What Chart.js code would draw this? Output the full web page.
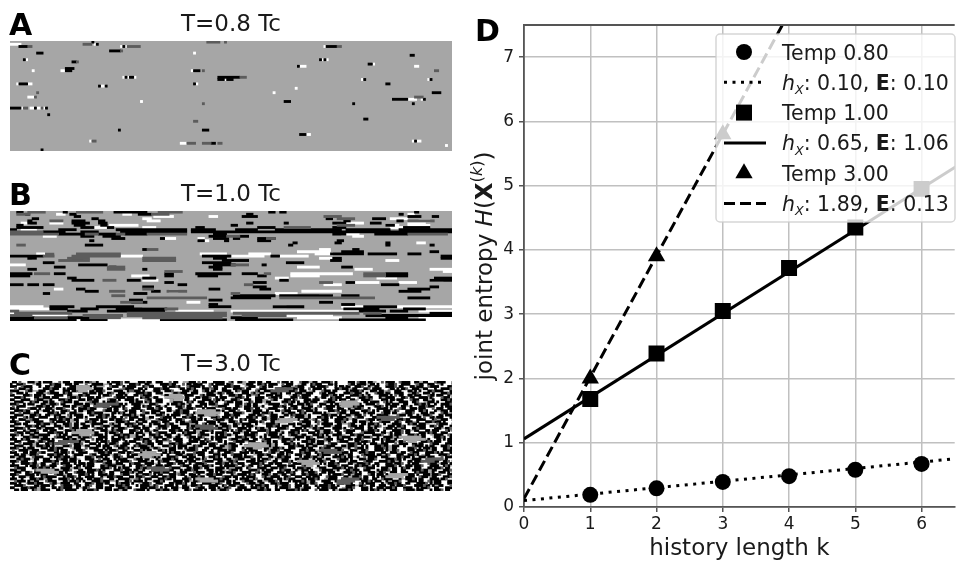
<!DOCTYPE html>
<html>
<head>
<meta charset="utf-8">
<title>Spin entropy</title>
<script src="https://cdn.jsdelivr.net/npm/chart.js@4"></script>
<style>
  html, body { margin: 0; padding: 0; background: #fff; overflow: hidden; }
  #page { position: relative; width: 957px; height: 563px; overflow: hidden; }
  canvas { position: absolute; }
</style>
</head>
<body>
<div id="page">
  <canvas id="panelA" width="452" height="170" style="left:0;top:0"></canvas>
  <canvas id="panelB" width="452" height="170" style="left:0;top:170px"></canvas>
  <canvas id="panelC" width="452" height="170" style="left:0;top:340px"></canvas>
  <canvas id="panelD" width="496" height="563" style="left:470px;top:0"></canvas>
</div>
<script>
// raster panels: 50 rows of 200 time steps, runs are [row, from, to]
const panelABlack = [[0,37,38],[1,39,40],[2,4,8],[2,51,52],[2,143,148],[4,45,50],[5,12,15],[6,181,183],[8,6,7],[8,140,141],[8,142,143],[9,28,30],[10,162,164],[11,130,131],[12,25,29],[13,25,28],[13,83,86],[16,52,53],[16,54,56],[16,94,104],[17,94,97],[17,98,101],[17,160,161],[17,190,191],[19,4,8],[19,83,84],[19,170,172],[20,40,41],[20,43,44],[23,191,195],[26,173,180],[26,187,188],[27,124,127],[28,155,156],[28,182,183],[30,0,5],[30,11,12],[30,16,17],[33,17,18],[35,160,162],[40,49,50],[40,87,90],[42,131,134],[45,183,184],[46,91,93],[49,14,15]];
const panelADark = [[0,89,95],[0,97,98],[1,33,37],[2,8,10],[2,53,59],[2,148,150],[4,50,51],[9,30,31],[13,87,88],[13,192,194],[16,104,107],[23,12,13],[25,11,12],[25,183,187],[28,87,88],[30,6,8],[30,14,15],[36,83,85],[45,37,39],[46,80,84],[46,87,91],[46,94,96]];
const panelAWhite = [[1,0,5],[1,38,39],[2,50,51],[2,52,53],[2,142,143],[2,148,149],[5,83,84],[8,7,8],[8,141,142],[8,143,144],[10,164,165],[11,131,134],[11,183,185],[13,10,11],[13,23,25],[13,82,83],[16,51,52],[16,53,54],[16,56,57],[17,97,98],[17,159,160],[17,189,190],[19,3,4],[19,8,10],[19,84,85],[20,41,43],[21,129,130],[23,119,120],[25,8,11],[26,180,184],[26,186,187],[27,59,60],[30,5,6],[30,9,11],[30,12,14],[30,15,16],[42,134,136],[45,36,37],[45,182,183],[45,184,186],[46,77,80],[47,197,198]];

const panelBBlack = [[0,3,6],[0,24,26],[0,47,62],[0,117,120],[0,122,125],[0,183,185],[1,7,9],[1,27,30],[1,58,64],[1,107,110],[1,176,178],[2,29,32],[2,105,112],[2,180,186],[2,191,194],[3,143,146],[3,164,170],[3,10,13],[3,37,40],[4,28,34],[4,40,43],[4,151,154],[4,175,178],[4,8,10],[5,8,12],[5,28,36],[5,40,44],[5,107,110],[5,146,152],[5,163,168],[5,124,126],[6,29,34],[6,41,44],[6,100,103],[6,170,174],[6,3,6],[7,3,15],[7,32,38],[7,44,47],[7,84,88],[7,112,120],[7,146,152],[7,178,190],[8,0,3],[8,22,30],[8,48,80],[8,82,93],[8,102,112],[8,120,150],[8,152,172],[8,176,200],[9,15,25],[9,32,40],[9,50,80],[9,82,172],[9,165,200],[10,22,34],[10,40,48],[10,52,62],[10,92,98],[10,146,152],[10,165,180],[11,32,38],[11,42,50],[11,90,98],[11,104,108],[12,46,52],[12,92,99],[12,101,104],[12,112,120],[12,68,70],[13,85,88],[13,97,99],[13,112,118],[13,148,151],[13,36,38],[14,147,150],[14,170,172],[14,128,130],[15,34,42],[15,126,128],[15,170,172],[15,190,192],[17,60,62],[17,155,158],[18,150,160],[18,190,194],[19,145,160],[19,162,175],[19,180,186],[20,0,15],[20,87,100],[20,118,122],[20,195,200],[21,8,12],[21,28,33],[21,92,98],[21,195,200],[21,146,150],[22,96,108],[22,145,150],[23,125,133],[23,87,100],[23,15,20],[24,31,44],[24,92,102],[24,114,116],[25,20,25],[25,45,48],[25,90,96],[25,150,155],[26,92,96],[26,8,12],[26,60,62],[28,0,10],[28,20,25],[28,84,100],[28,105,112],[28,170,180],[28,70,74],[29,0,9],[29,85,94],[29,70,74],[29,170,180],[29,112,116],[30,60,66],[30,192,200],[30,26,30],[31,53,59],[31,28,38],[31,190,200],[31,122,126],[32,110,116],[32,70,74],[32,152,156],[33,0,6],[33,8,13],[33,15,20],[33,168,176],[33,76,80],[34,110,116],[34,60,65],[34,190,194],[35,90,95],[35,113,118],[35,180,190],[35,30,34],[36,34,40],[36,176,186],[36,64,68],[37,56,62],[37,15,18],[38,101,120],[38,122,146],[38,150,158],[39,100,118],[39,180,190],[40,54,60],[40,90,96],[41,55,62],[41,140,146],[42,150,156],[42,90,94],[43,18,29],[43,39,56],[43,90,100],[43,119,133],[43,160,175],[44,18,26],[44,32,40],[44,48,71],[44,151,167],[44,178,188],[45,26,35],[45,44,70],[45,158,170],[45,172,180],[46,190,200],[47,161,200],[48,0,11],[48,26,36],[48,100,112],[48,170,180],[49,0,30],[49,32,44],[49,68,98],[49,102,128],[49,149,188]];
const panelBDark = [[0,8,16],[0,30,42],[0,67,78],[1,3,9],[1,64,72],[2,142,150],[3,148,156],[4,18,24],[4,180,192],[6,148,156],[7,124,136],[10,0,22],[10,34,40],[10,48,52],[10,62,80],[10,180,198],[9,0,15],[11,98,104],[12,116,120],[15,3,7],[17,62,67],[19,16,20],[19,30,50],[20,15,20],[20,28,50],[21,26,36],[21,60,75],[22,22,36],[22,60,75],[24,100,108],[25,44,52],[26,44,52],[27,70,78],[28,11,18],[28,160,170],[28,115,118],[29,160,170],[31,42,48],[32,140,146],[33,106,110],[35,60,65],[36,45,52],[36,71,80],[37,100,104],[38,46,52],[39,62,89],[39,122,146],[39,146,165],[41,50,60],[44,70,76],[45,0,4],[46,2,28],[46,53,98],[46,101,158],[46,160,168],[47,0,10],[47,33,51],[47,53,98],[47,105,125],[48,11,26],[48,36,50],[48,60,96]];
const panelBWhite = [[1,21,25],[1,51,55],[2,65,74],[2,90,94],[1,180,183],[3,60,64],[3,172,180],[4,62,68],[4,185,190],[5,5,9],[5,18,24],[5,150,160],[5,180,188],[6,45,58],[6,170,176],[6,180,190],[7,36,44],[7,60,66],[7,172,178],[8,5,12],[9,5,12],[10,150,158],[11,15,21],[11,155,160],[12,70,75],[12,85,88],[13,86,90],[14,184,188],[17,140,145],[18,130,145],[19,12,20],[19,86,98],[19,108,118],[19,138,146],[20,50,60],[20,100,115],[20,122,135],[21,10,12],[21,140,146],[22,170,176],[24,0,7],[25,130,140],[26,156,164],[26,190,200],[27,196,200],[28,127,155],[29,55,63],[29,127,140],[30,166,175],[30,120,126],[31,60,67],[31,190,196],[32,155,167],[32,176,184],[33,142,150],[35,20,24],[36,132,150],[36,72,76],[37,120,130],[38,140,146],[41,80,86],[43,0,15],[43,119,125],[43,150,200],[44,0,18],[44,60,70],[45,75,92],[45,100,158],[45,185,200],[46,0,2],[47,10,26],[47,125,146],[47,90,96],[48,130,150],[48,185,200],[49,30,32],[49,44,68],[49,188,200]];

// digit per cell: 0 black, 1 dark, 2 mid grey, 3 white
const panelCRows = [
"300313330002203000033313000330000300122033330300001300333300020033000333130033222000313003330000033103300223000300330033313000303331000220033000013033333000310003002233130000331000033002200333100003330010330033",
"033000133322003333010003300030033313300000222033001333000103300223330000100333130020000333103000030013333220003300103000033130003322003301000333002033333100300002200303331000133000033210033000322033330100003300",
"000331000033303300220003333000100330030222233100033030000333012003333003000103331000002033130033300010003322000331003003333000022100033300300001333030020033000133022003330000130033300200033100003333001300220330",
"331300022033333000100033020000333003130000330033322100003300303330001000333320030010333000210033003330000130033220003333000310300020033130000303333001000220033300130000333200303001330002200333033000013330020003",
"000033310022200033003333000300100333002000133330000330110003033320003300013333000220033100300333000033012000333103300002003333000130003220333100030033330200001033300030022133000333002030333001000033300220010333",
"133000303333000221000033010033333002000300330013300022333000010033000333320010003300033330002200130003333000310220033300010330033000220003331003000333300012000330333100020033000033220013300030333000102333000330",
"003333000130002033330000330022200100333303000133000203330031000033332200010303300003331020000330333000100330022103330003000333220013000033333000210030033300001022033330000303130033002000333100300033022003300013",
"330001033330022000300033331000103330003002233331000030003330100220033330000310300333002000133030003322000130333000033100020333300031000333022003301000330033320001003330220000333001300330000202333100030033013300",
"003330000331000222033300010033300030020033331000303300002033310033000333220001300330333000031002033300013300033000222310033300030133300020003333001030003300223000013333000300200033310003300220333000100330033000",
"330000333010033002003331000030033322100033030000133333002000301033000333220000330103300033002033310003000333013000220033333000100303300200033310000333022000133300300003310203330000330013322000303330001000330033",
"000133030003330022000130033330000300220133300033100303300002233000133330300010022033330003000133200333000310030033322000003313003300020013330003303000222103300330000313330020003300333001002033033000013300022033",
"313000033322000100303333000300221000330333001300002033330003010033002203333000130033000303322100003333001300030022033330001003300033022003310330000302333000100033332000130300033002203330001000333030002200331000",
"002033331000303300022000133303300001000333220030033013300003330002100330033300220001333030000333100020033300013003322000033303010033000022033310003300033022000133033300000303321003300020003331300033002200133300",
"330000100333022000303330001330300220003333100030033202000330133300003330022001000333303000133002033000313330020000330333002100033300130002033333000103002200333000130303300022013330000330010333022000303333000130",
"003313000220033330001030033000222330010000333300201033000333100300220033330001000330300223100033300330000133320003000103333022000330103330000302233310003300003302000333100030033220001333000300333100220030033001",
"330000333000103300220003331030000333002200100303333000010220033333000130300003320103300033002223300010003333000300133200033300301000022033333000100030330022000313303300000233310003003302200013330030003330100220",
"000333102003300003330100022033000303333000102200330313000033022003331000030333001000220333300013000302033330001033002200030033313000022033300100303300002223100033330030010003302233300000313300200033300100330003",
"303300022100033333000300100220033313000030333002000133003300022233100003033000133300200303331000022003330103000333002200010333000303300221033000333000010220033331000300033202300010033300003330122000330030333000",
"000133300220000333103000030222033300100330003332000010333022003300013000333030022100033330000302233000130333000020133300300002033331000033012200333000103330030002203331000033001330002203330001000303332200003300",
"330003003333001000220333000130030033200000333102203300001300333020003301003330000222033103000330003330012000033033220000103333000300220033313000003300222100333003000103303320000333010030002233310000330300203330",
"002233300010030033330002200130033000303331000220003330100033022033300001300033330200103000333022000130033030002233330001003000330332000013033300022000333100030033022001333000300103332200003300130033300002203310",
"330000130333002200003300333100020003331000303302200013330003000333102003300003330102000333003000220133300003033010022033300001333000303220010033330000203313000033002033310003022003330010003333000220013000330330",
"000333022000133003000333200010033300303330002201000333000130300220033333000100300330222000103333000303100220033300001033002233300003010333002200033003310000333022000103303330000130022003330030003331020000333000",
"331000300220033330001000303322000133000033302000130333003000222033100003300333010000220033303000013330002200300033331000022033000103333000302200013300330003332100000333002203000130033330002010033000333220001303",
"000130333002200000333103003300022033310000303330001000222033033000103300033202200033310000333030010022033300000133302000030333100022003330001030330000223300100033330000133202000333000103003322000033100333002000",
"303333000100022003331000030033202000133300003303300010222000333130000330022003331000300133302000003333000102200330303300001033332000030013300022033301000033300200013303300002200333100030003332000103300333000200",
"000330100333220000303333000100220033313000303300002033330001000222033001330000333020003301303000333100022000330033100033322000010303330000223310003300033002000133330003010022033300003310002033300303000133022000",
"330003330002200130003303330000102200333030001300033202000333010033000222133000333000030020133300303331000022000333010030033002203333000100300022033310000333002000130333030000220013300333000102000333003000133020",
"003313000022033300100030033220001333000303302000133000333002210003300333000100220033330003000133202000330333100003300022033300010303330002200033100033332000100303300022000333130000330020033310003330000220103300",
"330000333022000100303333000130002200333003000331020003330100002203333000130300003320100333000330022100033300303300010022033333000100030220033310000333002000133030333000100220003303331000030200333000130033002000",
"000133020003330003001000333220003313000033020033300010303330000220013333000300302000133300330000222100333030000133300220001033000333002003330100033000222033100030333000010220033333000130300020033300103300003220",
"313300002200033330001030003322000133330000302000133003330001020033300103000333220000133003303300002000333103000033302200013300033330001000220333030000133200033001333000030220013333000300010220033300003310030222",
"000333003000210033330020001303300003332200010033300030013330220000333003010002033331000033002203300013330000302000333100220030003330100033022000133330000303320001000333003300022003310003330000102033303000133000",
"330030022000133330001000303320000333100330000220013330300003330200010330333000220001300033330002003310000303332200010033300030133000220033301000033030022003333100000300220133300033000103220033330000130300002033",
"002200033310000333030001000220333300013000303320001330003330000210203330000133003000333022000103303330000200013300333002200100033330300010022033330000103002203313000033000233300100030330002000333130000330220003",
"333001000220033000333010003000223300003313000330200003331000300333022000010033330003002013330000330022100033300303000133022000333001000330300220033310000303330002000133330000100303320000333001000220333003000130",
"000130003320333000010033002000303333001000220033030000133300002203301000333000302000333100003300222001033330000300013320033000103333022000030013300330002200033310003330000100220333003000133020003300130033000220",
"303330000100220033300130000330300020003333100022000333010003300002203330001300033032000013333000100302200033300001033002000333130000220033300303000103333002200001033003330002000133030003333100022000300133000330",
"000033303000130022000333100033003020003330010000222033033000130033000200033331000330022000103330300000133022003301300033300002000333100003303322000013000333001000220303330000130330002000133300003301022000330300",
"331000033300200100303330000220013300033330000130302000333001000220033033100003330020001300333000030222000330133300003300020013330300010033220003330000103002033310000333000220033010033000333002000130033300300002",
"000220033331000030030022000133300330000102033330001300030022033300103300003330200010033330003000223100030333000013020003330100033022000303331000002203330010003300033302000130033003330000100220033300013003020003",
"330003300130000222033000303331000020003300133003330000102200333030001000330220003331000033003030020001333000033102200033300030010333022000133003000333200001030333000220013300033000333010000220330003030133000200",
"000133300003020003331000220033300010303300002003331000333022000130300333000210033000303320001000333302200003010333000130022003300333001000020333030000133022000333100300030220033310000303300020001333000033022001",
"303300022003330100000333020001303300003330220001000333003000133200033001000333302200010033000333100020033030000333102200003300133000330020003331000033300220001300330303000200013330000331000220033300010303320000",
"000330333000100220033300001303000330020001333003300000222103300033300010020333000130030332200001000333030000220133300003300201000333003000103322000033013330000200330033100003330220001030033300002001333000300330",
"331000030220033310000333002000103033300001000222033300130000303320001033330000300220013333000100030020333100003300222000130333030000102200333000033010002003333000103000330220001333000030033102000333000130030020",
"000303320001000333100220000330033300013000200333010000303322000133000333002000103300333000022001330030003331000220033300010000333030002200133300003300020003331030000333022000100330033300001302000333003000130330",
"330000133330020000303331000022003300133000333002000100333030000220133300003033002200010333000033013000220033303000100333022000133000300333020000100303330000220013300330003300200013333000010030220033310000330300",
"003330001000220033300301000033022001333000300033200010033330002000130303300022000333100033000302200133300003300010020333030000133002200033303000100033220001333000303300020001033300003302000133003330000220010300",
"330030003301220000333001300000333020001033300030022003331000030333001000220033300130000303300220001333000300033200010033003330000102000333130000330220000103333000300102203300033310000200033303000130033022000330"
];
// grey clusters that sit on top of panel C, [row, from, to]
const panelCGrey = [[2,30,36],[3,30,37],[4,31,35],[6,72,78],[7,70,79],[8,74,78],[9,150,157],[10,149,158],[11,150,155],[13,85,93],[14,84,95],[15,88,93],[17,122,130],[18,120,128],[22,30,37],[23,28,38],[24,32,36],[25,176,186],[26,178,188],[27,180,184],[28,108,116],[29,106,117],[30,110,114],[32,60,66],[33,58,68],[34,60,64],[36,130,138],[37,132,140],[38,134,137],[40,12,20],[41,14,22],[42,172,180],[43,170,178],[44,84,92],[45,86,94]];
const panelCDarkPatches = [[3,120,128],[4,118,126],[10,40,48],[11,38,44],[16,166,176],[17,168,174],[20,84,92],[21,86,94],[27,22,30],[28,20,26],[31,140,148],[32,142,150],[35,188,196],[36,186,192],[39,62,70],[40,64,72],[44,150,158],[45,148,156],[46,148,154]];

const rowLabels = [];
for (let i = 0; i < 50; i++) rowLabels.push(i);

// entropy curves, panel D
const historyK = [1, 2, 3, 4, 5, 6];
const temp080Values = [0.19, 0.29, 0.39, 0.48, 0.58, 0.67];
const temp100Values = [1.68, 2.39, 3.05, 3.72, 4.35, 4.95];
const temp300K = [1, 2, 3];
const temp300Values = [2.0, 3.9, 5.8];
const fitK = [0, 7];
const fit080Values = [0.10, 0.80];
const fit100Values = [1.06, 5.61];
const fit300Values = [0.13, 13.36];
const xTicks = [0, 1, 2, 3, 4, 5, 6];
const yTicks = [0, 1, 2, 3, 4, 5, 6, 7];

const FONT = '"DejaVu Sans"';
const TEXT = '#1a1a1a';
Chart.defaults.font.family = FONT;
Chart.defaults.color = TEXT;
Chart.defaults.animation = false;

function runsFromRows(rows, level) {
  const runs = [];
  rows.forEach((row, r) => {
    let start = -1;
    for (let c = 0; c <= row.length; c++) {
      if (row[c] === level) {
        if (start < 0) start = c;
      } else if (start >= 0) {
        runs.push([r, start, c]);
        start = -1;
      }
    }
  });
  return runs;
}

function runsToBars(runs) {
  return runs.map(r => ({ y: r[0], x: [r[1], r[2]] }));
}

// grey field and the bold panel letter
const panelPlugin = {
  id: 'panelPlugin',
  beforeDatasetsDraw(chart) {
    const a = chart.chartArea;
    chart.ctx.fillStyle = '#a6a6a6';
    chart.ctx.fillRect(a.left, a.top, a.right - a.left, a.bottom - a.top);
  },
  afterDraw(chart, args, opts) {
    const ctx = chart.ctx;
    ctx.save();
    ctx.font = 'bold 30px ' + FONT;
    ctx.fillStyle = '#000';
    ctx.fillText(opts.letter, 9, 35);
    ctx.restore();
  }
};

function makePanel(id, titleText, letter, black, dark, white, grey) {
  const datasets = [
    { data: runsToBars(dark), backgroundColor: '#5c5c5c' },
    { data: runsToBars(black), backgroundColor: '#000000' },
    { data: runsToBars(white), backgroundColor: '#ffffff' }
  ];
  if (grey) {
    datasets.push({ data: runsToBars(grey.dark), backgroundColor: '#5c5c5c', order: -1 });
    datasets.push({ data: runsToBars(grey.mid), backgroundColor: '#a6a6a6', order: -1 });
  }
  new Chart(document.getElementById(id), {
    type: 'bar',
    plugins: [panelPlugin],
    data: { labels: rowLabels, datasets: datasets },
    options: {
      responsive: false,
      indexAxis: 'y',
      events: [],
      layout: { padding: { left: 10, right: 0, top: 0, bottom: 19 } },
      datasets: { bar: { barThickness: 2.2, grouped: false, borderWidth: 0 } },
      scales: {
        x: { type: 'linear', min: 0, max: 200, display: false },
        y: { type: 'category', display: false }
      },
      plugins: {
        legend: { display: false },
        tooltip: { enabled: false },
        panelPlugin: { letter: letter },
        title: {
          display: true,
          text: titleText,
          color: TEXT,
          font: { size: 23, weight: 'normal' },
          padding: { top: 11.2, bottom: 2.2 }
        }
      }
    }
  });
}

makePanel('panelA', 'T=0.8 Tc', 'A', panelABlack, panelADark, panelAWhite);
makePanel('panelB', 'T=1.0 Tc', 'B', panelBBlack, panelBDark, panelBWhite);
makePanel('panelC', 'T=3.0 Tc', 'C',
  runsFromRows(panelCRows, '0'), runsFromRows(panelCRows, '1'), runsFromRows(panelCRows, '3'),
  { dark: panelCDarkPatches, mid: panelCGrey });

function toPoints(xs, ys) {
  return xs.map((x, i) => ({ x: x, y: ys[i] }));
}

// mixed italic / bold text, matplotlib mathtext style
function segFont(seg, size) {
  const s = seg.sub ? size * 0.62 : (seg.sup ? size * 0.7 : size);
  return (seg.italic ? 'italic ' : '') + (seg.bold ? 'bold ' : '') + s + 'px ' + FONT;
}
function richWidth(ctx, segs, size) {
  let w = 0;
  segs.forEach(seg => {
    ctx.font = segFont(seg, size);
    w += ctx.measureText(seg.t).width;
  });
  return w;
}
function drawRich(ctx, segs, x, y, size) {
  segs.forEach(seg => {
    ctx.font = segFont(seg, size);
    let dy = 0;
    if (seg.sub) dy = size * 0.2;
    if (seg.sup) dy = -size * 0.42;
    ctx.fillText(seg.t, x, y + dy);
    x += ctx.measureText(seg.t).width;
  });
}

function fitLabel(h, e) {
  return [
    { t: 'h', italic: true },
    { t: 'X', italic: true, sub: true },
    { t: ': ' + h + ', ' },
    { t: 'E', bold: true },
    { t: ': ' + e }
  ];
}

const legendRows = [
  { marker: 'circle', label: [{ t: 'Temp 0.80' }] },
  { dash: [3, 5.5], label: fitLabel('0.10', '0.10') },
  { marker: 'rect', label: [{ t: 'Temp 1.00' }] },
  { dash: [], label: fitLabel('0.65', '1.06') },
  { marker: 'triangle', label: [{ t: 'Temp 3.00' }] },
  { dash: [11, 5], label: fitLabel('1.89', '0.13') }
];

const yTitle = [
  { t: 'joint entropy ' },
  { t: 'H', italic: true },
  { t: '(' },
  { t: 'X', bold: true },
  { t: '(', sup: true },
  { t: 'k', sup: true, italic: true },
  { t: ')', sup: true },
  { t: ')' }
];

const entropyPlugin = {
  id: 'entropyPlugin',
  afterDatasetsDraw(chart) {
    const ctx = chart.ctx;
    const a = chart.chartArea;
    ctx.save();
    // top spine
    ctx.strokeStyle = '#555555';
    ctx.lineWidth = 1.8;
    ctx.beginPath();
    ctx.moveTo(a.left, a.top);
    ctx.lineTo(a.right, a.top);
    ctx.stroke();

    // legend box
    ctx.fillStyle = 'rgba(255,255,255,0.8)';
    ctx.strokeStyle = 'rgba(204,204,204,0.8)';
    ctx.lineWidth = 1.5;
    ctx.beginPath();
    ctx.roundRect(246, 34, 239, 188, 4);
    ctx.fill();
    ctx.stroke();

    ctx.textBaseline = 'alphabetic';
    legendRows.forEach((row, i) => {
      const y = 52 + i * 30.3;
      if (row.marker) {
        ctx.fillStyle = '#000';
        Chart.helpers.drawPoint(ctx, {
          pointStyle: row.marker,
          radius: row.marker === 'circle' ? 8 : (row.marker === 'rect' ? 11.3 : 10),
          rotation: 0,
          borderWidth: 0
        }, 274, y);
      } else {
        ctx.strokeStyle = '#000';
        ctx.lineWidth = 3;
        ctx.setLineDash(row.dash);
        ctx.beginPath();
        ctx.moveTo(254, y);
        ctx.lineTo(296, y);
        ctx.stroke();
        ctx.setLineDash([]);
      }
      ctx.fillStyle = TEXT;
      drawRich(ctx, row.label, 312, y + 7.5, 20.5);
    });

    // y title with superscript
    ctx.translate(22, 266);
    ctx.rotate(-Math.PI / 2);
    ctx.fillStyle = TEXT;
    drawRich(ctx, yTitle, -richWidth(ctx, yTitle, 23) / 2, 0, 23);
    ctx.restore();

    ctx.save();
    ctx.font = 'bold 30px ' + FONT;
    ctx.fillStyle = '#000';
    ctx.fillText('D', 5, 41);
    ctx.restore();
  }
};

function fitDataset(ys, dash) {
  return {
    type: 'scatter',
    showLine: true,
    data: toPoints(fitK, ys),
    borderColor: '#000',
    borderWidth: 3,
    borderDash: dash,
    pointRadius: 0
  };
}
function markerDataset(xs, ys, style, radius) {
  return {
    type: 'scatter',
    data: toPoints(xs, ys),
    pointStyle: style,
    pointRadius: radius,
    backgroundColor: '#000',
    borderColor: '#000',
    borderWidth: 0
  };
}

new Chart(document.getElementById('panelD'), {
  type: 'scatter',
  plugins: [entropyPlugin],
  data: {
    datasets: [
      fitDataset(fit080Values, [3, 5.5]),
      fitDataset(fit100Values, []),
      fitDataset(fit300Values, [11, 5]),
      markerDataset(historyK, temp080Values, 'circle', 8),
      markerDataset(historyK, temp100Values, 'rect', 11.3),
      markerDataset(temp300K, temp300Values, 'triangle', 10)
    ]
  },
  options: {
    responsive: false,
    events: [],
    layout: { padding: { left: 0, right: 0, top: 25, bottom: 0 } },
    scales: {
      x: {
        type: 'linear',
        min: 0,
        max: 6.5,
        afterFit(scale) { scale.height = 56; scale.paddingLeft = 0; scale.paddingRight = 0; },
        afterBuildTicks(scale) { scale.ticks = xTicks.map(v => ({ value: v })); },
        border: { color: '#555555', width: 1.8 },
        grid: { color: '#c0c0c0', lineWidth: 1.5, tickLength: 5, tickColor: '#555555' },
        ticks: { font: { size: 17 }, color: TEXT, maxRotation: 0, padding: 2 },
        title: { display: true, text: 'history length k', color: TEXT, font: { size: 23 }, padding: { top: 0, bottom: 0 } }
      },
      y: {
        type: 'linear',
        min: 0,
        max: 7.5,
        afterFit(scale) { scale.width = 54; scale.paddingTop = 0; scale.paddingBottom = 0; },
        afterBuildTicks(scale) { scale.ticks = yTicks.map(v => ({ value: v })); },
        border: { color: '#555555', width: 1.8 },
        grid: { color: '#c0c0c0', lineWidth: 1.5, tickLength: 5, tickColor: '#555555' },
        ticks: { font: { size: 17 }, color: TEXT, padding: 5 }
      }
    },
    plugins: {
      legend: { display: false },
      tooltip: { enabled: false }
    }
  }
});
</script>
</body>
</html>
